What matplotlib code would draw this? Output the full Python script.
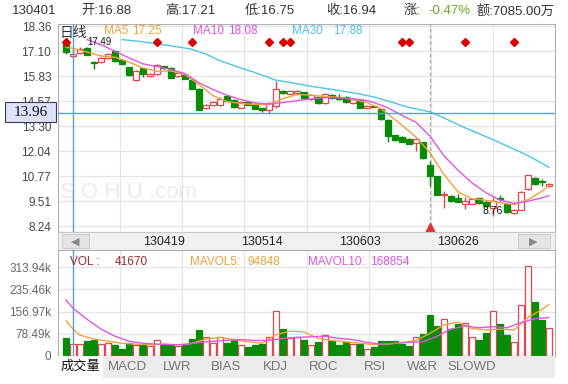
import matplotlib
matplotlib.use('Agg')
import matplotlib.pyplot as plt
from matplotlib.patches import Rectangle

plt.rcParams['font.family'] = ['Liberation Sans', 'Noto Sans CJK SC', 'DejaVu Sans']

W, H = 568, 384

def box(x0, y0, x1, y1):
    return [x0 / W, 1 - y1 / H, (x1 - x0) / W, (y1 - y0) / H]

def ftext(x, y, s, **kw):
    return fig.text(x / W, 1 - y / H, s, **kw)

# ---- daily candles ----
opens = [17.45, 16.88, 17.01, 17.27, 16.55, 16.56, 16.76, 17.10, 16.64, 16.29,
         15.66, 16.24, 15.83, 15.95, 16.33, 16.25, 15.83, 15.92, 15.66, 15.21,
         14.22, 14.36, 14.40, 14.82, 14.65, 14.23, 14.53, 14.45, 14.20, 14.14,
         14.31, 15.11, 14.95, 15.00, 15.01, 14.68, 14.79, 14.48, 14.89, 14.78,
         14.79, 14.48, 14.62, 14.23, 14.35, 14.18, 13.64, 12.83, 12.76, 12.66,
         12.46, 12.49, 11.31, 10.77, 9.84, 9.76, 9.67, 9.34, 9.37, 9.64,
         9.47, 9.17, 9.68, 9.34, 8.88, 9.08, 10.10, 10.69, 10.52, 10.26]
highs = [17.49, 17.21, 17.30, 17.30, 16.58, 16.80, 17.00, 17.15, 16.70, 16.32,
         16.15, 16.27, 15.98, 16.45, 16.36, 16.28, 16.05, 15.95, 15.70, 15.22,
         14.42, 14.58, 14.78, 14.86, 14.68, 14.55, 14.56, 14.48, 14.23, 14.52,
         15.58, 15.14, 15.13, 15.15, 15.04, 14.93, 14.82, 14.98, 14.93, 14.94,
         14.82, 14.72, 14.66, 14.38, 14.40, 14.22, 13.66, 12.87, 12.80, 12.70,
         12.70, 12.52, 11.53, 10.80, 10.01, 9.80, 9.89, 9.72, 9.62, 9.68,
         9.50, 9.72, 9.80, 9.38, 9.10, 10.02, 10.85, 10.72, 10.64, 10.40]
lows = [16.98, 16.75, 16.96, 16.89, 16.20, 16.52, 16.72, 16.55, 16.40, 15.84,
        15.58, 15.80, 15.80, 15.92, 16.22, 15.72, 15.80, 15.68, 15.18, 14.10,
        14.18, 14.33, 14.34, 14.57, 14.20, 14.20, 14.37, 14.15, 14.03, 13.90,
        14.20, 14.95, 14.92, 14.95, 14.68, 14.65, 14.45, 14.45, 14.70, 14.65,
        14.50, 14.45, 14.20, 14.20, 14.25, 13.64, 12.49, 12.56, 12.48, 12.38,
        12.04, 11.63, 10.27, 9.80, 9.17, 9.45, 9.44, 9.12, 9.34, 9.38,
        9.22, 8.76, 9.50, 8.90, 8.85, 9.05, 10.07, 10.32, 10.27, 10.24]
closes = [17.04, 16.94, 17.21, 16.93, 16.50, 16.76, 16.96, 16.59, 16.45, 15.88,
          16.12, 15.97, 15.95, 16.42, 16.25, 15.75, 16.00, 15.71, 15.21, 14.14,
          14.39, 14.53, 14.70, 14.60, 14.26, 14.52, 14.40, 14.18, 14.10, 14.48,
          15.19, 14.99, 15.07, 15.08, 14.71, 14.90, 14.48, 14.94, 14.74, 14.68,
          14.52, 14.68, 14.23, 14.35, 14.28, 13.67, 12.80, 12.59, 12.51, 12.41,
          12.66, 11.67, 10.77, 9.84, 9.87, 9.51, 9.46, 9.51, 9.59, 9.42,
          9.25, 9.51, 9.62, 8.95, 9.08, 9.98, 10.82, 10.35, 10.45, 10.38]
volumes_k = [65, 41.67, 41, 54, 55, 41, 45, 40, 25, 45,
             40, 38, 37, 55, 40, 40, 36, 40, 59, 92,
             66, 45, 66, 47, 59, 38, 31, 39, 42, 68,
             159, 96, 62, 66, 57, 38, 50, 74, 52, 39,
             50, 42, 42, 25, 33, 52, 52, 52, 44, 35,
             66, 78, 145, 106, 130, 96, 113, 115, 66, 57,
             83, 159, 113, 74, 48, 180, 318, 192, 127, 98]

# moving averages (read at selected days)
ma5_idx = [0, 1, 3, 5, 7, 9, 11, 13, 15, 17, 19, 21, 23, 25, 27, 29, 31, 33, 35, 37,
           39, 41, 43, 45, 46, 48, 50, 52, 54, 56, 58, 60, 62, 64, 66, 68, 69]
ma5_val = [17.30, 17.25, 17.06, 16.86, 16.80, 16.55, 16.25, 16.08, 16.10, 15.92,
           15.41, 14.85, 14.55, 14.45, 14.40, 14.40, 14.70, 14.90, 14.88, 14.80,
           14.77, 14.65, 14.50, 14.18, 13.92, 13.35, 12.75, 11.95, 10.85, 9.98,
           9.62, 9.55, 9.42, 9.32, 9.58, 10.00, 10.30]
ma10_idx = [3, 5, 7, 9, 11, 13, 15, 17, 19, 21, 23, 25, 27, 29, 31, 33, 35, 37, 39,
            41, 43, 44, 46, 48, 50, 52, 54, 56, 58, 60, 62, 64, 66, 68, 69]
ma10_val = [17.69, 17.43, 17.10, 16.76, 16.46, 16.32, 16.17, 15.97, 15.50, 15.16,
            14.87, 14.65, 14.48, 14.42, 14.50, 14.60, 14.68, 14.75, 14.74, 14.69,
            14.60, 14.50, 14.23, 13.85, 13.50, 12.80, 11.80, 11.07, 10.43, 9.93,
            9.56, 9.39, 9.50, 9.67, 9.78]
ma30_idx = [8, 10, 13, 16, 18, 20, 22, 25, 27, 30, 32, 35, 37, 40, 42, 44, 46, 49,
            52, 54, 57, 61, 65, 67, 69]
ma30_val = [17.69, 17.62, 17.48, 17.32, 17.20, 16.95, 16.62, 16.25, 16.02, 15.63,
            15.52, 15.32, 15.22, 15.05, 14.93, 14.78, 14.58, 14.25, 14.03, 13.72,
            13.22, 12.62, 11.98, 11.62, 11.22]

mavol5_idx = [0, 1, 2, 4, 6, 8, 10, 12, 14, 16, 18, 20, 22, 24, 26, 28, 30, 32, 34,
              36, 38, 40, 42, 44, 46, 48, 50, 52, 54, 56, 58, 60, 62, 64, 66, 68, 69]
mavol5_val = [125, 95, 74, 60, 52, 45, 42, 40, 42, 40, 45, 60, 66, 58, 50, 45, 75,
              88, 85, 62, 55, 50, 45, 40, 42, 48, 55, 80, 110, 120, 97, 92, 95, 92,
              136, 165, 182]
mavol10_idx = [0, 1, 3, 5, 7, 9, 11, 13, 15, 17, 19, 21, 23, 25, 27, 29, 31, 33, 35,
               37, 39, 41, 43, 45, 47, 49, 51, 53, 55, 57, 59, 61, 63, 65, 67, 69]
mavol10_val = [198, 169, 130, 95, 70, 52, 45, 42, 40, 40, 48, 52, 55, 58, 55, 55, 62,
               66, 68, 70, 62, 58, 48, 42, 45, 48, 50, 70, 95, 106, 100, 104, 100,
               118, 132, 136]

event_idx = [0, 13, 18, 29, 31, 32, 48, 49, 57, 64]
price_ticks = [18.36, 17.10, 15.83, 14.57, 13.30, 12.04, 10.77, 9.51, 8.24]
vol_ticks = [0, 78.49, 156.97, 235.46, 313.94]
vol_tick_labels = ['0', '78.49k', '156.97k', '235.46k', '313.94k']
date_idx = [14, 28, 42, 56]
date_labels = ['130419', '130514', '130603', '130626']
tabs = ['MACD', 'LWR', 'BIAS', 'KDJ', 'ROC', 'RSI', 'W&R', 'SLOWD']
tab_x = [127, 177, 226, 275, 324, 375, 422, 472]
cross_idx = 1
cross_price = 13.96
exright_idx = 52

RED = '#e0474c'
GREEN = '#068c06'
C5 = '#f0a23a'
C10 = '#e056e0'
C30 = '#4cc4e6'
GRID = '#e4e4e4'
CROSS = '#5b9fd0'

fig = plt.figure(figsize=(W / 100, H / 100), dpi=100)
XL = (-1.14, 69.86)

# ---- price panel ----
ax1 = fig.add_axes(box(58, 24, 555, 232))
ax1.set_xlim(*XL)
ax1.set_ylim(7.94, 18.48)
ax1.set_xticks([])
ax1.set_yticks(price_ticks)
ax1.set_yticklabels(['%.2f' % t for t in price_ticks])
ax1.tick_params(axis='y', length=0, pad=5, labelsize=8.5, labelcolor='#444')
for sp in ax1.spines.values():
    sp.set_color('#b0b0b0')
for t in price_ticks:
    ax1.axhline(t, color=GRID, lw=0.9, zorder=0)
for k in range(1, 8):
    ax1.plot([k / 8, k / 8], [0, 1], transform=ax1.transAxes, color=GRID, lw=0.9, zorder=0)
ax1.axvline(exright_idx, color='#aaaaaa', lw=0.9, ls=(0, (3, 2)), zorder=1)

ax1.text(0.004, 0.165, 'S O H U .com', transform=ax1.transAxes, fontsize=16,
         color='#ebebeb', zorder=0)

bw = 0.72
for i in range(len(opens)):
    o, h, l, c = opens[i], highs[i], lows[i], closes[i]
    up = c >= o
    col = RED if up else GREEN
    ax1.vlines(i, l, h, color=col, lw=1, zorder=2)
    lo = min(o, c)
    hh = max(abs(c - o), 0.03)
    ax1.add_patch(Rectangle((i - bw / 2, lo), bw, hh, facecolor='white' if up else col,
                            edgecolor=col, lw=0.9, zorder=3))

ax1.plot(ma5_idx, ma5_val, color=C5, lw=1, zorder=4)
ax1.plot(ma10_idx, ma10_val, color=C10, lw=1, zorder=4)
ax1.plot(ma30_idx, ma30_val, color=C30, lw=1, zorder=4)

ax1.plot(event_idx, [17.59] * len(event_idx), 'D', color='#d80000', ms=4.5, zorder=5)
ax1.plot(exright_idx, 8.12, '^', color='#e03030', ms=7, zorder=5, clip_on=False)

ax1.axvline(cross_idx, color=CROSS, lw=1, zorder=6)
ax1.axhline(cross_price, color=CROSS, lw=1, zorder=6)

ax1.text(3.0, 17.40, '%.2f' % max(highs), fontsize=7, color='#111', zorder=7)
ax1.text(61, min(lows), '%.2f' % min(lows), fontsize=7.5, color='#111', ha='center',
         va='bottom', zorder=7)

# legend row
ftext(60, 33, '日线', fontsize=10, color='#333', va='center')
ftext(104, 31, 'MA5', fontsize=8.5, color=C5, va='center')
ftext(132, 31, '17.25', fontsize=8.5, color=C5, va='center')
ftext(193, 31, 'MA10', fontsize=8.5, color=C10, va='center')
ftext(228, 31, '18.08', fontsize=8.5, color=C10, va='center')
ftext(292, 31, 'MA30', fontsize=8.5, color=C30, va='center')
ftext(333, 31, '17.88', fontsize=8.5, color=C30, va='center')

# crosshair price box
fig.patches.append(Rectangle((5 / W, 1 - 122 / H), 51 / W, 20 / H, transform=fig.transFigure,
                             facecolor='#dfe1fb', edgecolor='#3a3a5a', lw=0.8))
ftext(30.5, 112, '%.2f' % cross_price, fontsize=11, color='#111', ha='center', va='center',
      family='Liberation Serif')

# ---- scroll bar with dates ----
axs = fig.add_axes(box(58, 232, 555, 250))
axs.set_xlim(*XL)
axs.set_ylim(0, 1)
axs.set_facecolor('#f1f1f1')
axs.set_xticks([])
axs.set_yticks([])
for sp in axs.spines.values():
    sp.set_color('#c8c8c8')
axs.add_patch(Rectangle((0.008, 0.12), 0.055, 0.76, transform=axs.transAxes,
                        facecolor='#e4e4e4', edgecolor='#cfcfcf', lw=0.8))
axs.add_patch(Rectangle((0.925, 0.12), 0.065, 0.76, transform=axs.transAxes,
                        facecolor='#e4e4e4', edgecolor='#cfcfcf', lw=0.8))
axs.text(0.035, 0.48, '◀', transform=axs.transAxes, fontsize=8, color='#888',
         ha='center', va='center', family='DejaVu Sans')
axs.text(0.957, 0.48, '▶', transform=axs.transAxes, fontsize=8, color='#888',
         ha='center', va='center', family='DejaVu Sans')
for xi, lab in zip(date_idx, date_labels):
    axs.text(xi, 0.45, lab, fontsize=9, color='#222', ha='center', va='center')

# ---- volume panel ----
ax2 = fig.add_axes(box(58, 250, 555, 356))
ax2.set_xlim(*XL)
ax2.set_ylim(0, 375)
ax2.set_xticks([])
ax2.set_yticks(vol_ticks)
ax2.set_yticklabels(vol_tick_labels)
ax2.tick_params(axis='y', length=0, pad=5, labelsize=8.5, labelcolor='#666')
for sp in ax2.spines.values():
    sp.set_color('#b0b0b0')
for t in vol_ticks[1:]:
    ax2.axhline(t, color=GRID, lw=0.9, zorder=0)
for k in range(1, 8):
    ax2.plot([k / 8, k / 8], [0, 1], transform=ax2.transAxes, color=GRID, lw=0.9, zorder=0)

for i, v in enumerate(volumes_k):
    up = closes[i] >= opens[i]
    col = RED if up else GREEN
    ax2.add_patch(Rectangle((i - bw / 2, 0), bw, v, facecolor='white' if up else col,
                            edgecolor=col, lw=0.9, zorder=2))
ax2.plot(mavol5_idx, mavol5_val, color=C5, lw=1, zorder=3)
ax2.plot(mavol10_idx, mavol10_val, color=C10, lw=1, zorder=3)
ax2.axvline(cross_idx, color=CROSS, lw=1, zorder=4)

ftext(70, 262, 'VOL :', fontsize=8.5, color='#9a2a2a', va='center')
ftext(115, 262, '%d' % round(volumes_k[cross_idx] * 1000), fontsize=8.5, color='#9a2a2a',
      va='center')
ftext(190, 262, 'MAVOL5:', fontsize=8.5, color=C5, va='center')
ftext(247, 262, '94848', fontsize=8.5, color=C5, va='center')
ftext(308, 262, 'MAVOL10:', fontsize=8.5, color=C10, va='center')
ftext(370, 262, '168854', fontsize=8.5, color=C10, va='center')

# ---- tab bar ----
axt = fig.add_axes(box(58, 356, 555, 378))
axt.set_xlim(0, 497)
axt.set_ylim(0, 1)
axt.set_facecolor('#ebebeb')
axt.set_xticks([])
axt.set_yticks([])
for sp in axt.spines.values():
    sp.set_visible(False)
axt.add_patch(Rectangle((0, 0), 45, 1, facecolor='white', edgecolor='none'))
axt.text(22, 0.5, '成交量', fontsize=9.5, color='#111', ha='center', va='center')
for tx, lab in zip(tab_x, tabs):
    axt.text(tx - 58, 0.5, lab, fontsize=9.5, color='#777', ha='center', va='center')

# ---- header ----
hd = dict(fontsize=9.5, color='#333', va='center')
ftext(12, 11, '130401', **hd)
ftext(81, 11, '开:16.88', **hd)
ftext(165, 11, '高:17.21', **hd)
ftext(245, 11, '低:16.75', **hd)
ftext(326, 11, '收:16.94', **hd)
ftext(404, 11, '涨:', **hd)
ftext(428, 11, '-0.47%', fontsize=9.5, color='#6aa52a', va='center')
amt = ftext(477, 11, '额:7085.00万', **hd)
amt.set_clip_box(ax1.bbox)
amt.set_clip_on(True)
amt.set_clip_box(matplotlib.transforms.Bbox.from_extents(0, 0, 557, H))

fig.savefig('out.png', dpi=100)
